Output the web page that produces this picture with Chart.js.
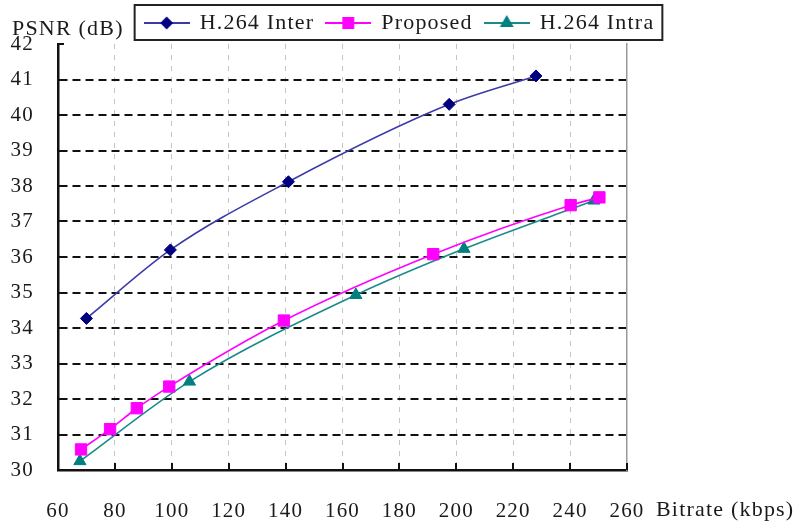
<!DOCTYPE html>
<html>
<head>
<meta charset="utf-8">
<title>PSNR vs Bitrate</title>
<script src="https://cdn.jsdelivr.net/npm/chart.js@4/dist/chart.umd.min.js"></script>
<style>
  html, body { margin: 0; padding: 0; background: #fff; }
  canvas { display: block; }
</style>
</head>
<body>
<canvas id="rd" width="799" height="524"></canvas>
<script>
// rate-distortion points (bitrate in kbps, PSNR in dB)
const seriesNames = ["H.264 Inter", "Proposed", "H.264 Intra"]
const interRate = [70, 99.5, 141, 197.5, 228]
const interPsnr = [34.27, 36.2, 38.12, 40.3, 41.1]
const propRate = [68.1, 78.3, 87.7, 99.1, 139.4, 191.9, 240.2, 250.3]
const propPsnr = [30.58, 31.15, 31.74, 32.35, 34.21, 36.08, 37.46, 37.68]
const intraRate = [67.7, 106.2, 164.7, 202.7, 248.4]
const intraPsnr = [30.25, 32.49, 34.93, 36.23, 37.59]
const xTicks = [60, 80, 100, 120, 140, 160, 180, 200, 220, 240, 260]
const yTicks = [30, 31, 32, 33, 34, 35, 36, 37, 38, 39, 40, 41, 42]

const FONT = "'Liberation Serif', 'Times New Roman', serif"
const INK = '#1a1a1a'

function pts(xs, ys) {
    return xs.map((x, i) => ({ x: x, y: ys[i] }))
}

// little line+marker picture used as the legend symbol
function legendIcon(lineColor, markColor, style, radius) {
    const c = document.createElement('canvas')
    c.width = 46
    c.height = 18
    const g = c.getContext('2d')
    g.strokeStyle = lineColor
    g.lineWidth = 2
    g.beginPath()
    g.moveTo(0, 9)
    g.lineTo(46, 9)
    g.stroke()
    g.fillStyle = markColor
    g.strokeStyle = markColor
    Chart.helpers.drawPoint(g, { pointStyle: style, radius: radius, borderWidth: 1 }, 23, 9)
    return c
}

const looks = [
    { line: '#3b3ba8', mark: '#000080', style: 'rectRot', r: 6 },
    { line: '#ff00ff', mark: '#ff00ff', style: 'rect', r: 8 },
    { line: '#1a8a8a', mark: '#008080', style: 'triangle', r: 7 }
]
const icons = looks.map(l => legendIcon(l.line, l.mark, l.style, l.r - 1))

const spacing = {
    id: 'spacing',
    beforeUpdate(chart) { chart.ctx.letterSpacing = '1.2px' },
    beforeDraw(chart) {
        const ctx = chart.ctx
        ctx.letterSpacing = '1.2px'
        ctx.save()
        ctx.fillStyle = '#fff'
        ctx.fillRect(0, 0, chart.width, chart.height)
        ctx.restore()
    }
}

const extras = {
    id: 'extras',
    afterDraw(chart) {
        const ctx = chart.ctx
        const a = chart.chartArea
        const xs = chart.scales.x
        const ys = chart.scales.y
        ctx.save()
        ctx.letterSpacing = '1.2px'
        // inward tick marks
        ctx.strokeStyle = '#111'
        ctx.lineWidth = 2
        ctx.beginPath()
        xTicks.slice(1).forEach(v => {
            const px = Math.round(xs.getPixelForValue(v))
            ctx.moveTo(px, a.bottom)
            ctx.lineTo(px, a.bottom - 7)
        })
        yTicks.slice(1).forEach(v => {
            const py = Math.round(ys.getPixelForValue(v))
            ctx.moveTo(a.left, py)
            ctx.lineTo(a.left + 6, py)
        })
        ctx.stroke()

        // axis titles
        ctx.fillStyle = INK
        ctx.font = '22px ' + FONT
        ctx.textAlign = 'left'
        ctx.textBaseline = 'alphabetic'
        ctx.fillText('PSNR (dB)', a.left - 46, a.top - 9)
        ctx.fillText('Bitrate (kbps)', a.right + 29, a.bottom + 46)

        // frame round the legend
        const hb = chart.legend.legendHitBoxes
        if (hb && hb.length) {
            const first = hb[0]
            const last = hb[hb.length - 1]
            ctx.strokeStyle = '#222'
            ctx.lineWidth = 2
            ctx.strokeRect(first.left - 10, first.top - 7, last.left + last.width - first.left + 18, first.height + 13)
        }
        ctx.restore()
    }
}

const data = {
    datasets: [
        { label: seriesNames[0], data: pts(interRate, interPsnr) },
        { label: seriesNames[1], data: pts(propRate, propPsnr) },
        { label: seriesNames[2], data: pts(intraRate, intraPsnr) }
    ].map((d, i) => Object.assign(d, {
        borderColor: looks[i].line,
        backgroundColor: looks[i].mark,
        pointBorderColor: looks[i].mark,
        pointBackgroundColor: looks[i].mark,
        pointStyle: looks[i].style,
        pointRadius: looks[i].r,
        pointBorderWidth: 1,
        borderWidth: 1.6,
        cubicInterpolationMode: 'monotone',
        showLine: true
    }))
}

const config = {
    type: 'scatter',
    data: data,
    options: {
        responsive: false,
        animation: false,
        layout: { padding: 0 },
        plugins: {
            tooltip: { enabled: false },
            legend: {
                position: 'top',
                labels: {
                    usePointStyle: true,
                    pointStyleWidth: 44,
                    padding: 12,
                    color: INK,
                    font: { family: FONT, size: 22 },
                    generateLabels: chart => chart.data.datasets.map((ds, i) => ({
                        text: ds.label,
                        pointStyle: icons[i],
                        fillStyle: looks[i].mark,
                        strokeStyle: looks[i].line,
                        lineWidth: 0,
                        hidden: false,
                        fontColor: INK,
                        datasetIndex: i
                    }))
                }
            }
        },
        scales: {
            x: {
                type: 'linear',
                min: 60,
                max: 260,
                afterBuildTicks: s => { s.ticks = xTicks.map(v => ({ value: v })) },
                afterFit: s => { s.height = 54 },
                ticks: { padding: 29, color: INK, font: { family: FONT, size: 21 } },
                grid: {
                    drawTicks: false,
                    color: ctx => (ctx.tick && (ctx.tick.value === 60 || ctx.tick.value === 260)) ? 'rgba(0,0,0,0)' : '#c4c4c4',
                    lineWidth: 1
                },
                border: { display: true, color: '#111', width: 2.5, dash: [5, 6] }
            },
            y: {
                type: 'linear',
                min: 30,
                max: 42,
                afterBuildTicks: s => { s.ticks = yTicks.map(v => ({ value: v })) },
                afterFit: s => { s.width = 58 },
                ticks: { padding: 24, color: INK, font: { family: FONT, size: 21 } },
                grid: {
                    drawTicks: false,
                    color: ctx => (ctx.tick && (ctx.tick.value === 30 || ctx.tick.value === 42)) ? 'rgba(0,0,0,0)' : '#111',
                    lineWidth: 2
                },
                border: { display: true, color: '#111', width: 2.5, dash: [8, 5] }
            },
            yRight: {
                type: 'linear',
                position: 'right',
                min: 30,
                max: 42,
                afterFit: s => { s.width = 172 },
                ticks: { display: false },
                grid: { display: false, drawTicks: false },
                border: { display: true, color: '#9a9a9a', width: 1.5 }
            }
        }
    },
    plugins: [spacing, extras]
}

const rdChart = new Chart(document.getElementById('rd'), config)
</script>
</body>
</html>
